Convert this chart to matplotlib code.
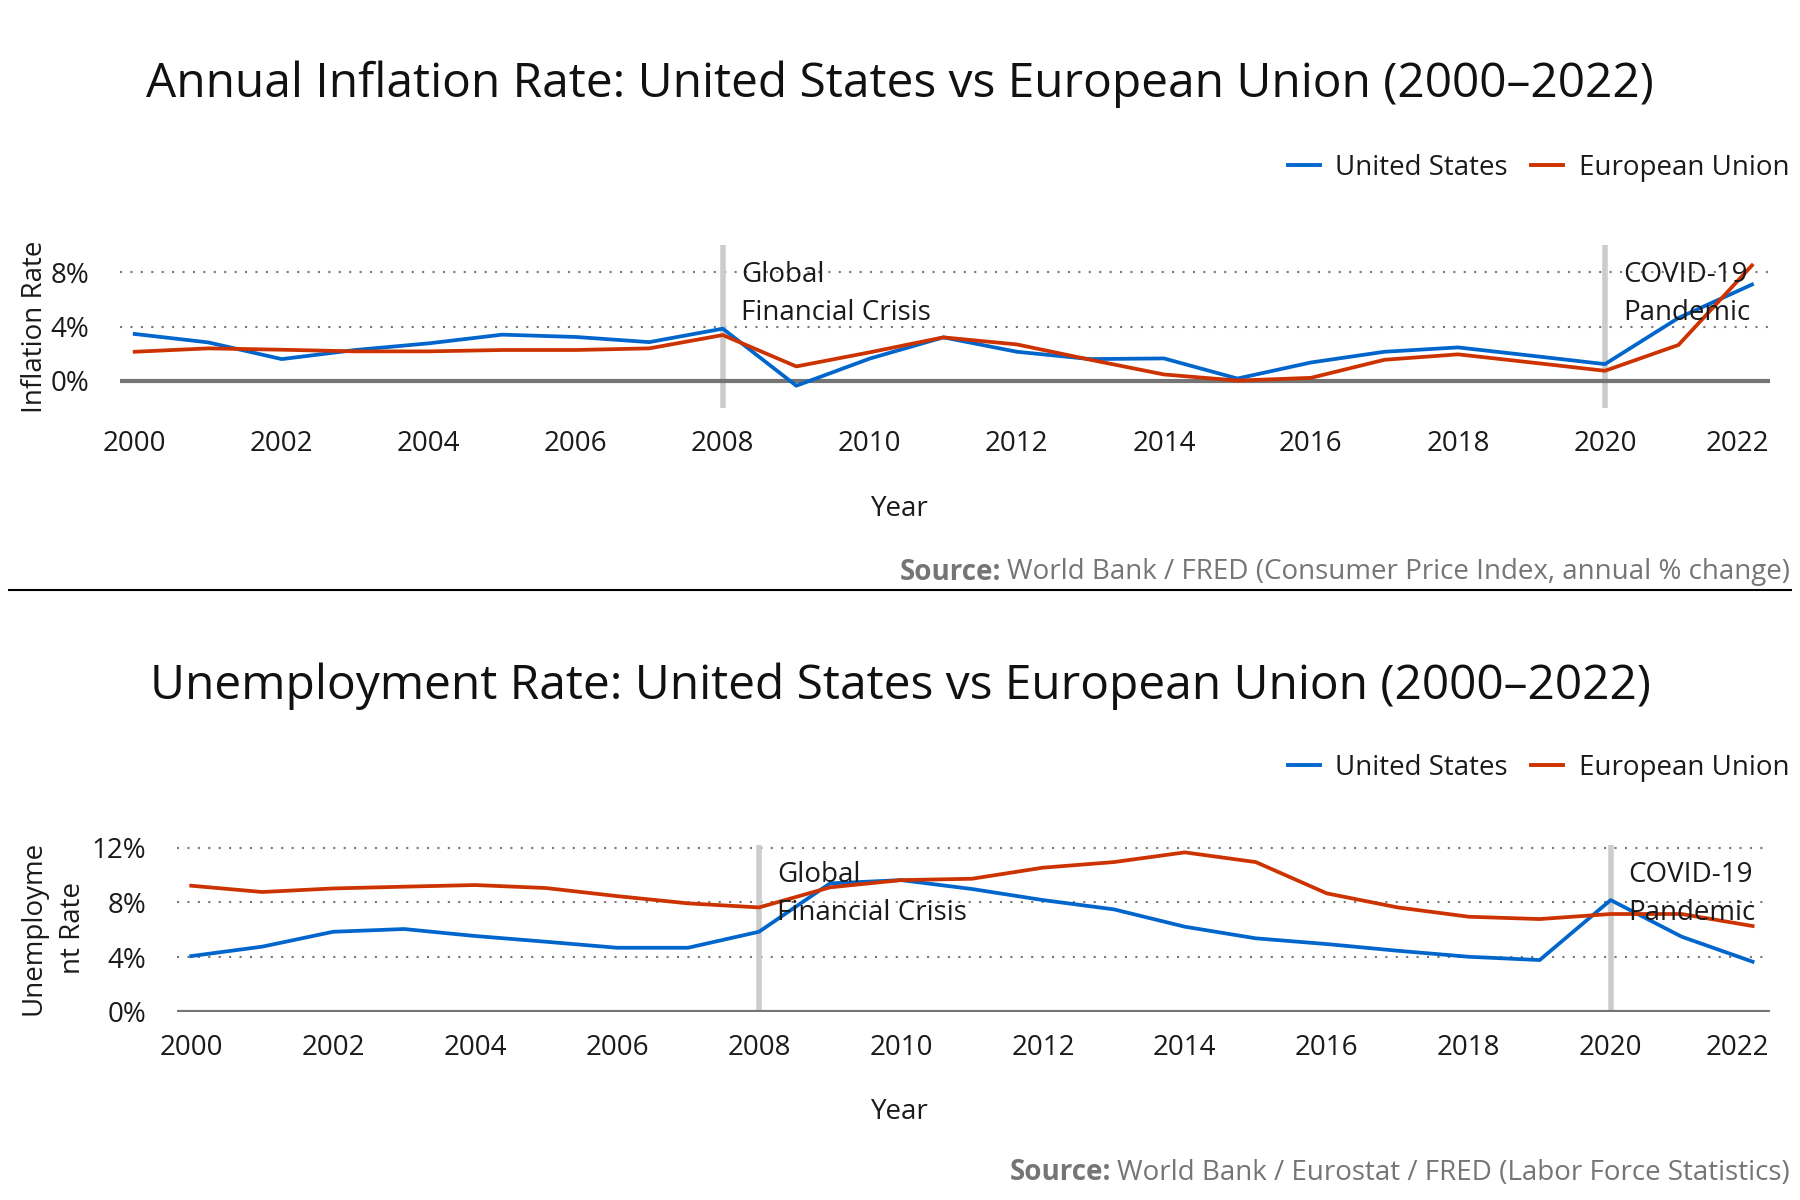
import matplotlib
matplotlib.use("Agg")
import matplotlib.pyplot as plt
from matplotlib.lines import Line2D
import matplotlib.transforms as mtransforms

plt.rcParams['font.family'] = ['Open Sans', 'DejaVu Sans']

years = list(range(2000, 2023))

us_inflation = [3.45, 2.83, 1.6, 2.27, 2.76, 3.4, 3.23, 2.85, 3.84, -0.36, 1.64, 3.2,
                2.14, 1.6, 1.65, 0.17, 1.35, 2.14, 2.46, 1.85, 1.23, 4.63, 7.09]
eu_inflation = [2.14, 2.39, 2.29, 2.17, 2.17, 2.27, 2.27, 2.39, 3.37, 1.06, 2.1, 3.2,
                2.68, 1.55, 0.47, 0.02, 0.22, 1.55, 1.95, 1.35, 0.74, 2.64, 8.5]

us_unemp = [4.07, 4.76, 5.85, 6.05, 5.54, 5.12, 4.68, 4.68, 5.85, 9.39, 9.63, 8.98,
            8.17, 7.49, 6.22, 5.37, 4.95, 4.46, 4.02, 3.78, 8.17, 5.49, 3.66]
eu_unemp = [9.22, 8.76, 9.02, 9.15, 9.27, 9.05, 8.46, 7.93, 7.63, 9.1, 9.63, 9.73,
            10.54, 10.95, 11.66, 10.95, 8.66, 7.63, 6.95, 6.78, 7.15, 7.15, 6.27]

xticks = list(range(2000, 2023, 2))
events = [2008, 2020]
event_labels = ["Global\nFinancial Crisis", "COVID-19\nPandemic"]
series_names = ["United States", "European Union"]

BLUE = "#0066CC"
RED = "#CC3300"
GRAY_AXIS = "#757575"
VLINE = "#CCCCCC"
TXT = "#1A1A1A"
FS = 20

fig = plt.figure(figsize=(18, 12), dpi=100)

def panel(rect, us, eu, ylim, yticks, grid_ticks, ylabel, title, title_y, legend_y,
          source, source_y, xlabel_y, ylabel_x):
    ax = fig.add_axes(rect)
    ax.set_xlim(1999.80, 2022.245)
    ax.set_ylim(*ylim)
    for g in grid_ticks:
        ax.axhline(g, color="#777777", lw=1.5, ls=(0, (1, 4)), zorder=1)
    ax.axhline(0, color=GRAY_AXIS, lw=3, zorder=2)
    for e in events:
        ax.axvline(e, color=VLINE, lw=4.0, zorder=1.5)
    ax.plot(years, us, color=BLUE, lw=2.7, zorder=3)
    ax.plot(years, eu, color=RED, lw=2.7, zorder=3)
    for e, lab in zip(events, event_labels):
        ax.annotate(lab, xy=(e, 1), xycoords=ax.get_xaxis_transform(),
                    xytext=(18, -16), textcoords='offset pixels',
                    ha='left', va='top', fontsize=FS, color=TXT, linespacing=1.46,
                    zorder=4)
    for s in ax.spines.values():
        s.set_visible(False)
    ax.set_xticks(xticks)
    ax.set_xticklabels([str(t) for t in xticks])
    ax.set_yticks(yticks)
    ax.set_yticklabels([f"{t}%" for t in yticks])
    ax.tick_params(axis='both', length=0, labelsize=FS, colors=TXT)
    ax.tick_params(axis='x', pad=16)
    ax.tick_params(axis='y', pad=22)
    # last year label is pulled inside the plotting area
    last = ax.get_xticklabels()[-1]
    last.set_transform(last.get_transform() +
                       mtransforms.ScaledTranslation(-15 / 100, 0, fig.dpi_scale_trans))
    fig.text(0.5, xlabel_y, "Year", ha='center', va='center', fontsize=FS, color=TXT)
    fig.text(ylabel_x, rect[1] + rect[3] / 2, ylabel, rotation=90, ha='center',
             va='center', fontsize=FS, color=TXT, linespacing=1.55)
    fig.text(0.5, title_y, title, ha='center', va='center', fontsize=34.5, color="#111111")
    handles = [Line2D([], [], color=BLUE, lw=2.8), Line2D([], [], color=RED, lw=2.8)]
    fig.legend(handles, series_names, loc='center right', bbox_to_anchor=(0.9940, legend_y),
               frameon=False, fontsize=FS, ncol=2, handlelength=1.15, handletextpad=0.55,
               columnspacing=0.86, labelcolor=TXT, borderaxespad=0, borderpad=0)
    bold, rest = source
    t = fig.text(0.9945, source_y, rest, ha='right', va='center', fontsize=FS, color=GRAY_AXIS)
    fig.canvas.draw()
    bb = t.get_window_extent()
    fig.text(bb.x0 / fig.bbox.width - 0.0035, source_y, bold, ha='right', va='center',
             fontsize=FS, color=GRAY_AXIS, fontweight='bold')
    return ax

# top panel: axes x 120..1770, y 245..408 px
panel([120 / 1800, 1 - 408 / 1200, 1650 / 1800, 163 / 1200],
      us_inflation, eu_inflation, (-2, 10), [0, 4, 8], [4, 8], "Inflation Rate",
      "Annual Inflation Rate: United States vs European Union (2000–2022)",
      1 - 84 / 1200, 1 - 168 / 1200,
      ("Source:", "World Bank / FRED (Consumer Price Index, annual % change)"),
      1 - 572 / 1200, 1 - 509 / 1200, 35 / 1800)

# bottom panel: axes x 177..1770, y 845..1011.7 px
panel([177 / 1800, 1 - 1011.7 / 1200, 1593 / 1800, 166.7 / 1200],
      us_unemp, eu_unemp, (0, 12.2), [0, 4, 8, 12], [4, 8, 12], "Unemployme\nnt Rate",
      "Unemployment Rate: United States vs European Union (2000–2022)",
      1 - 686 / 1200, 1 - 768 / 1200,
      ("Source:", "World Bank / Eurostat / FRED (Labor Force Statistics)"),
      1 - 1173 / 1200, 1 - 1112 / 1200, 53 / 1800)

# separator line
fig.add_artist(Line2D([9 / 1800, 1791 / 1800], [1 - 590 / 1200, 1 - 590 / 1200],
                      color="black", lw=1.5, transform=fig.transFigure))

fig.savefig("out.png", dpi=100, facecolor="white")
